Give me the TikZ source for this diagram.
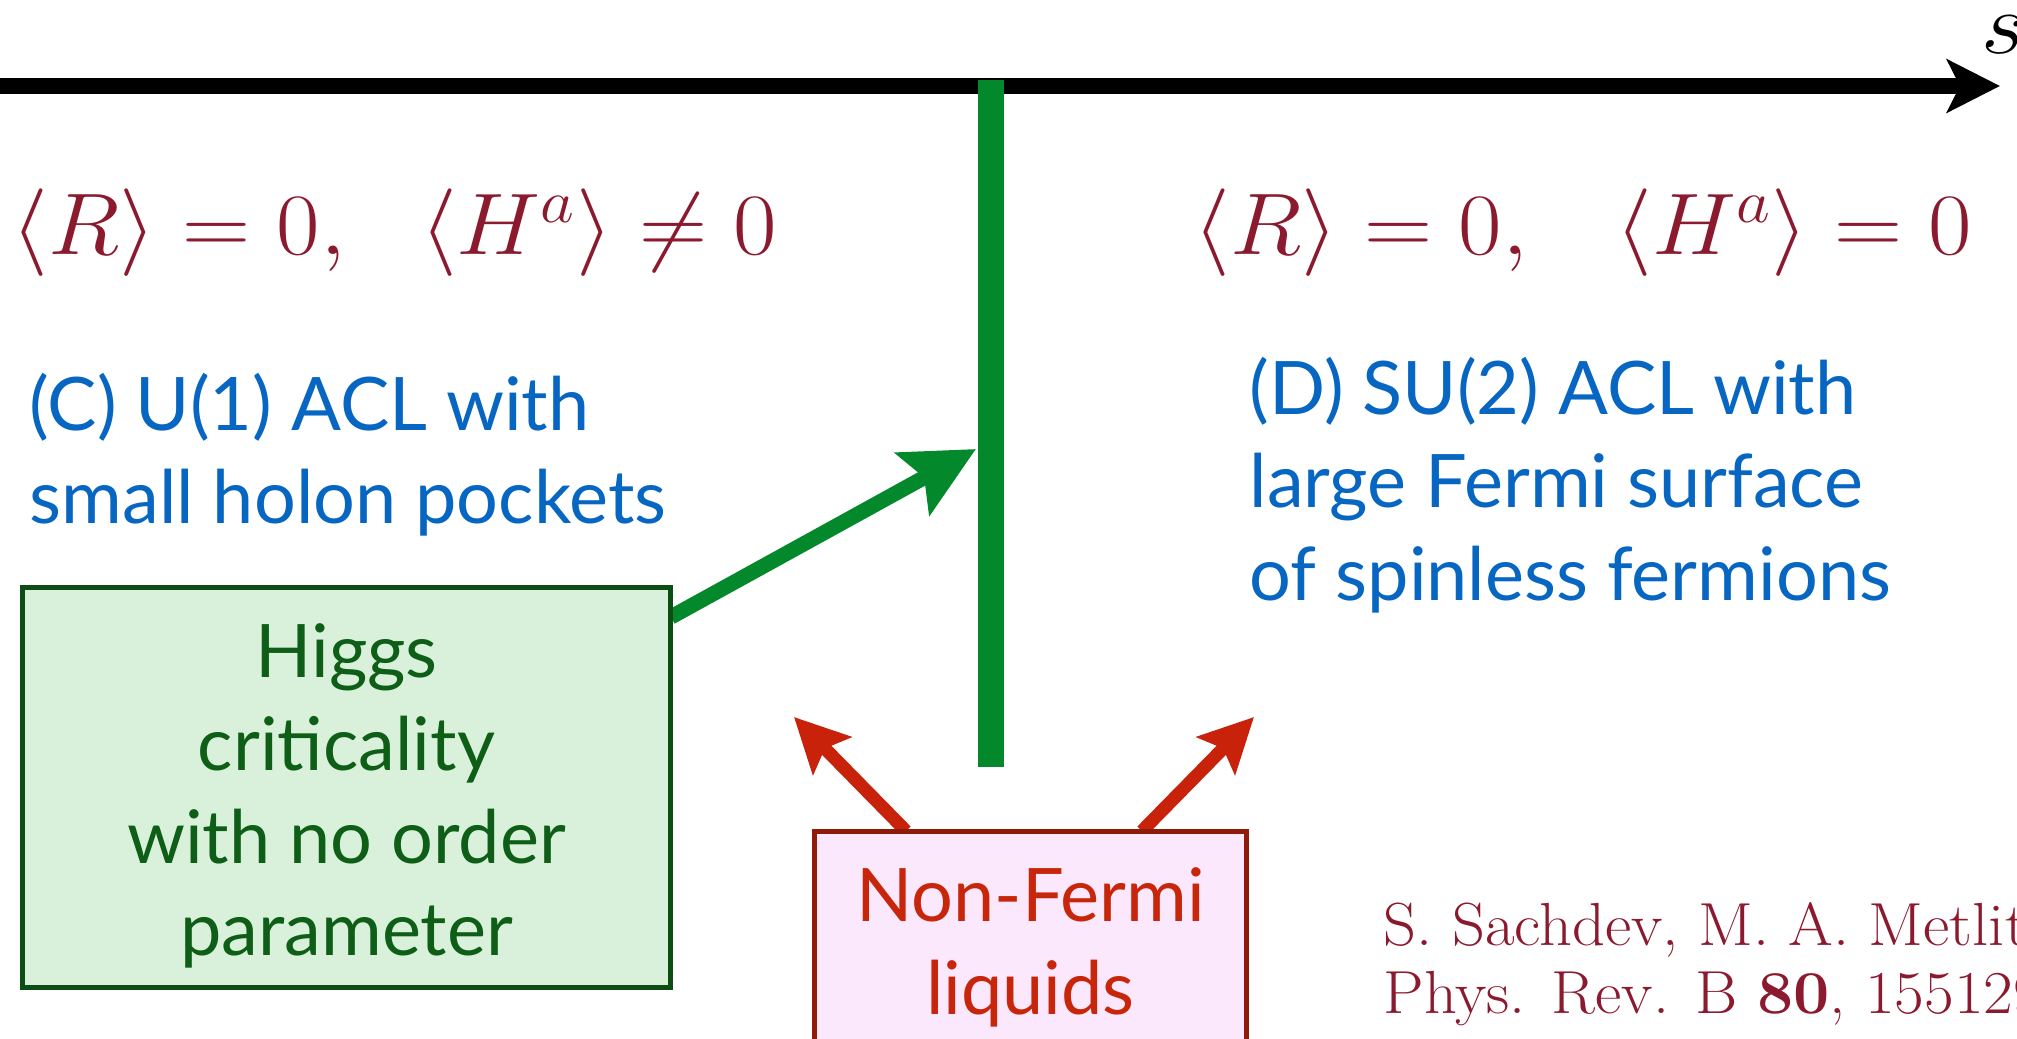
\documentclass[tikz,border=0pt]{standalone}
\usepackage{fontspec}
\newfontfamily\gillfont{Lato}
\usetikzlibrary{arrows.meta}
\definecolor{mathred}{HTML}{8C1A2E}
\definecolor{acblue}{HTML}{0666C2}
\definecolor{bargreen}{HTML}{03892C}
\definecolor{higgsfill}{HTML}{D9F1DA}
\definecolor{higgsdraw}{HTML}{0B4D12}
\definecolor{higgstext}{HTML}{0E5E17}
\definecolor{nflfill}{HTML}{FCE8FC}
\definecolor{nfldraw}{HTML}{8E1A0A}
\definecolor{nfltext}{HTML}{C8260A}
\definecolor{arrowred}{HTML}{C8230A}
\begin{document}
\begin{tikzpicture}[x=0.01cm, y=-0.01cm,
  mathlabel/.style={text=mathred, inner sep=0pt, anchor=base west, font=\fontsize{27}{31}\selectfont},
  bluetext/.style={text=acblue, inner sep=0pt, anchor=base west, font=\gillfont\fontsize{21}{26.4}\selectfont},
  citetext/.style={text=mathred, inner sep=0pt, anchor=base west, font=\fontsize{17.3}{19.3}\selectfont},
  higgsbox/.style={draw=higgsdraw, fill=higgsfill, line width=1.4pt, inner sep=0pt,
    minimum width=6.48cm, minimum height=4cm},
  higgslabel/.style={text=higgstext, align=center, inner sep=0pt, font=\gillfont\fontsize{21}{26.4}\selectfont},
  nflbox/.style={draw=nfldraw, fill=nflfill, line width=1.4pt, text=nfltext, align=center,
    inner sep=0pt, minimum width=4.32cm, minimum height=2.32cm, font=\gillfont\fontsize{21}{26.4}\selectfont},
  axisline/.style={line width=4.3pt, -{Stealth[length=0.53cm, width=0.53cm, inset=0.13cm]}},
  critbar/.style={line width=7.4pt, bargreen},
  greenarrow/.style={line width=4.3pt, bargreen, -{Stealth[length=0.72cm, width=0.70cm, inset=0.13cm]}},
  redarrow/.style={line width=3.7pt, arrowred, -{Stealth[length=0.54cm, width=0.53cm, inset=0.1cm]}}
]
\useasboundingbox (0,0) rectangle (2017,1039);
\clip (0,0) rectangle (2017,1039);

% axis
\coordinate (axstart) at (-10,86);
\coordinate (axend) at (2000,86);
\draw[axisline] (axstart) -- (axend);
\node[inner sep=0pt, anchor=base west, font=\fontsize{27}{31}\selectfont] (slabel) at (1981,53) {\scalebox{1.08}[1]{$s$}};

% critical line
\coordinate (bartop) at (991,80);
\coordinate (barbot) at (991,767);
\draw[critbar] (bartop) -- (barbot);

% phase labels
\node[mathlabel] (mathC) at (11,254) {\scalebox{1.08}[1]{$\langle R\rangle = 0,\hspace{0.57em}\langle H^a\rangle \neq 0$}};
\node[mathlabel] (mathD) at (1193,254) {\scalebox{1.08}[1]{$\langle R\rangle = 0,\hspace{0.7em}\langle H^a\rangle = 0$}};

\node[bluetext] (cline1) at (29,430) {(C) U(1) ACL with};
\node[bluetext] (cline2) at (29,523) {small holon pockets};

\node[bluetext] (dline1) at (1249,414) {(D) SU(2) ACL with};
\node[bluetext] (dline2) at (1249,507) {large Fermi surface};
\node[bluetext] (dline3) at (1249,600) {of spinless fermions};

% green arrow
\coordinate (gtail) at (671,617);
\coordinate (gtip) at (976,449);
\draw[greenarrow] (gtail) -- (gtip);

% Higgs box
\node[higgsbox] (higgs) at (346.5,787.5) {};
\node[higgslabel] (higgstxt) at (346.5,796) {Higgs\\criticality\\with no order\\parameter};

% red arrows
\coordinate (rtailL) at (906,831);
\coordinate (rtipL) at (794,717);
\coordinate (rtailR) at (1142,831);
\coordinate (rtipR) at (1254,717);
\draw[redarrow] (rtailL) -- (rtipL);
\draw[redarrow] (rtailR) -- (rtipR);

% Non-Fermi liquids box
\node[nflbox] (nfl) at (1030.5,947.5) {Non-Fermi\\liquids};

% citation
\node[citetext] (cite1) at (1383,945) {\scalebox{1.06}[1]{S. Sachdev, M. A. Metlitski,}};
\node[citetext] (cite2) at (1383,1013) {\scalebox{1.06}[1]{Phys. Rev. B \textbf{80}, 155129 (2009)}};
\end{tikzpicture}
\end{document}
